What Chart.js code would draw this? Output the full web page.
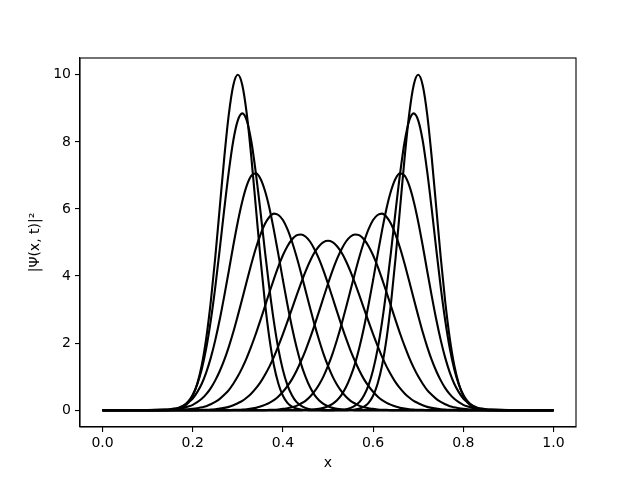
<!DOCTYPE html>
<html>
<head>
<meta charset="utf-8">
<script src="https://cdn.jsdelivr.net/npm/chart.js@4/dist/chart.umd.min.js"></script>
<style>
  html, body { margin: 0; padding: 0; background: #fff; }
  #wrap { width: 640px; height: 480px; }
</style>
</head>
<body>
<div id="wrap"><canvas id="c" width="640" height="480"></canvas></div>
<script>
// x grid (positions along the box)
const xs = [0,
  0.14,0.15,0.16,0.17,0.18,0.19,0.20,0.21,0.22,0.23,
  0.24,0.25,0.26,0.27,0.28,0.29,0.30,0.31,0.32,0.33,
  0.34,0.35,0.36,0.37,0.38,0.39,0.40,0.41,0.42,0.43,
  0.44,0.45,0.46,0.47,0.48,0.49,0.50,0.51,0.52,0.53,
  0.54,0.55,0.56,0.57,0.58,0.59,0.60,0.61,0.62,0.63,
  0.64,0.65,0.66,0.67,0.68,0.69,0.70,0.71,0.72,0.73,
  0.74,0.75,0.76,0.77,0.78,0.79,0.80,0.81,0.82,0.83,
  0.84,0.85,0.86,
  1];

// |Psi(x,t)|^2 for each time frame
const frame0 = [0,
  0,0.01,0.02,0.05,0.11,0.22,0.43,0.79,1.34,2.15,
  3.23,4.56,6.05,7.54,8.82,9.69,10.00,9.69,8.82,7.54,
  6.05,4.56,3.23,2.15,1.34,0.79,0.43,0.22,0.11,0.05,
  0.02,0.01,0,0,0,0,0,0,0,0,
  0,0,0,0,0,0,0,0,0,0,
  0,0,0,0,0,0,0,0,0,0,
  0,0,0,0,0,0,0,0,0,0,
  0,0,0,
  0];
const frame1 = [0,
  0.01,0.02,0.04,0.07,0.14,0.26,0.46,0.77,1.22,1.85,
  2.67,3.67,4.81,6.00,7.11,8.04,8.64,8.85,8.63,8.01,
  7.07,5.95,4.76,3.63,2.64,1.82,1.20,0.75,0.45,0.25,
  0.14,0.07,0.03,0.02,0.01,0,0,0,0,0,
  0,0,0,0,0,0,0,0,0,0,
  0,0,0,0,0,0,0,0,0,0,
  0,0,0,0,0,0,0,0,0,0,
  0,0,0,
  0];
const frame2 = [0,
  0.02,0.03,0.05,0.08,0.14,0.23,0.35,0.54,0.79,1.13,
  1.56,2.09,2.71,3.41,4.15,4.91,5.62,6.23,6.70,6.99,
  7.06,6.91,6.55,6.03,5.37,4.64,3.88,3.15,2.48,1.89,
  1.39,1.00,0.69,0.46,0.30,0.19,0.12,0.07,0.04,0.02,
  0.01,0.01,0,0,0,0,0,0,0,0,
  0,0,0,0,0,0,0,0,0,0,
  0,0,0,0,0,0,0,0,0,0,
  0,0,0,
  0];
const frame3 = [0,
  0.01,0.02,0.03,0.05,0.07,0.11,0.16,0.24,0.34,0.48,
  0.66,0.89,1.17,1.50,1.89,2.33,2.82,3.33,3.85,4.36,
  4.83,5.23,5.55,5.76,5.86,5.82,5.67,5.40,5.03,4.59,
  4.10,3.58,3.06,2.56,2.10,1.68,1.32,1.01,0.76,0.56,
  0.40,0.28,0.20,0.13,0.09,0.06,0.04,0.02,0.01,0.01,
  0,0,0,0,0,0,0,0,0,0,
  0,0,0,0,0,0,0,0,0,0,
  0,0,0,
  0];
const frame4 = [0,
  0,0,0.01,0.01,0.02,0.03,0.04,0.06,0.09,0.12,
  0.18,0.25,0.34,0.46,0.60,0.79,1.01,1.27,1.57,1.91,
  2.28,2.68,3.09,3.51,3.91,4.29,4.62,4.89,5.09,5.21,
  5.24,5.18,5.03,4.80,4.51,4.16,3.77,3.36,2.94,2.53,
  2.14,1.78,1.46,1.17,0.92,0.72,0.55,0.41,0.30,0.22,
  0.16,0.11,0.07,0.05,0.03,0.02,0.01,0.01,0,0,
  0,0,0,0,0,0,0,0,0,0,
  0,0,0,
  0];
const frame5 = [0,
  0,0,0,0,0,0,0,0,0.01,0.01,
  0.02,0.03,0.05,0.07,0.10,0.15,0.21,0.28,0.38,0.50,
  0.65,0.83,1.05,1.30,1.59,1.92,2.27,2.64,3.02,3.41,
  3.78,4.13,4.44,4.70,4.89,5.01,5.05,5.01,4.89,4.70,
  4.44,4.13,3.78,3.41,3.02,2.64,2.27,1.92,1.59,1.30,
  1.05,0.83,0.65,0.50,0.38,0.28,0.21,0.15,0.10,0.07,
  0.05,0.03,0.02,0.01,0.01,0,0,0,0,0,
  0,0,0,
  0];
const frame6 = [0,
  0,0,0,0,0,0,0,0,0,0,
  0,0,0,0,0,0.01,0.01,0.02,0.03,0.05,
  0.07,0.11,0.16,0.22,0.30,0.41,0.55,0.72,0.92,1.17,
  1.46,1.78,2.14,2.53,2.94,3.36,3.77,4.16,4.51,4.80,
  5.03,5.18,5.24,5.21,5.09,4.89,4.62,4.29,3.91,3.51,
  3.09,2.68,2.28,1.91,1.57,1.27,1.01,0.79,0.60,0.46,
  0.34,0.25,0.18,0.12,0.09,0.06,0.04,0.03,0.02,0.01,
  0.01,0,0,
  0];
const frame7 = [0,
  0,0,0,0,0,0,0,0,0,0,
  0,0,0,0,0,0,0,0,0,0,
  0,0,0,0.01,0.01,0.02,0.04,0.06,0.09,0.13,
  0.20,0.28,0.40,0.56,0.76,1.01,1.32,1.68,2.10,2.56,
  3.06,3.58,4.10,4.59,5.03,5.40,5.67,5.82,5.86,5.76,
  5.55,5.23,4.83,4.36,3.85,3.33,2.82,2.33,1.89,1.50,
  1.17,0.89,0.66,0.48,0.34,0.24,0.16,0.11,0.07,0.05,
  0.03,0.02,0.01,
  0];
const frame8 = [0,
  0,0,0,0,0,0,0,0,0,0,
  0,0,0,0,0,0,0,0,0,0,
  0,0,0,0,0,0,0,0,0,0,
  0,0.01,0.01,0.02,0.04,0.07,0.12,0.19,0.30,0.46,
  0.69,1.00,1.39,1.89,2.48,3.15,3.88,4.64,5.37,6.03,
  6.55,6.91,7.06,6.99,6.70,6.23,5.62,4.91,4.15,3.41,
  2.71,2.09,1.56,1.13,0.79,0.54,0.35,0.23,0.14,0.08,
  0.05,0.03,0.02,
  0];
const frame9 = [0,
  0,0,0,0,0,0,0,0,0,0,
  0,0,0,0,0,0,0,0,0,0,
  0,0,0,0,0,0,0,0,0,0,
  0,0,0,0,0,0,0,0,0.01,0.02,
  0.03,0.07,0.14,0.25,0.45,0.75,1.20,1.82,2.64,3.63,
  4.76,5.95,7.07,8.01,8.63,8.85,8.64,8.04,7.11,6.00,
  4.81,3.67,2.67,1.85,1.22,0.77,0.46,0.26,0.14,0.07,
  0.04,0.02,0.01,
  0];
const frame10 = [0,
  0,0,0,0,0,0,0,0,0,0,
  0,0,0,0,0,0,0,0,0,0,
  0,0,0,0,0,0,0,0,0,0,
  0,0,0,0,0,0,0,0,0,0,
  0,0.01,0.02,0.05,0.11,0.22,0.43,0.79,1.34,2.15,
  3.23,4.56,6.05,7.54,8.82,9.69,10.00,9.69,8.82,7.54,
  6.05,4.56,3.23,2.15,1.34,0.79,0.43,0.22,0.11,0.05,
  0.02,0.01,0,
  0];

const frames = [frame0, frame1, frame2, frame3, frame4, frame5,
                frame6, frame7, frame8, frame9, frame10];

const xTicks = [0, 0.2, 0.4, 0.6, 0.8, 1.0];
const yTicks = [0, 2, 4, 6, 8, 10];

const FONT = { family: 'DejaVu Sans', size: 14 };

const datasets = frames.map(f => ({
  data: xs.map((x, i) => ({ x: x, y: f[i] })),
  borderColor: '#000',
  borderWidth: 2.1,
  pointRadius: 0,
  fill: false,
  cubicInterpolationMode: 'monotone'
}));

const framePlugin = {
  id: 'frame',
  afterDraw(chart) {
    const { ctx, chartArea: a } = chart;
    ctx.save();
    ctx.strokeStyle = '#000';
    ctx.lineWidth = 1.1;
    ctx.strokeRect(a.left, a.top, a.right - a.left, a.bottom - a.top);
    ctx.restore();
  }
};

new Chart(document.getElementById('c'), {
  type: 'line',
  data: { datasets },
  plugins: [framePlugin],
  options: {
    responsive: false,
    animation: false,
    layout: { padding: { top: 58, right: 64, left: 0, bottom: 0 } },
    plugins: { legend: { display: false }, tooltip: { enabled: false } },
    scales: {
      x: {
        type: 'linear',
        min: -0.05, max: 1.05,
        afterBuildTicks: a => { a.ticks = xTicks.map(v => ({ value: v })); },
        afterFit: s => { s.height = 53; },
        ticks: { color: '#000', font: FONT, padding: 3, maxRotation: 0, autoSkip: false,
                 callback: v => Number(v).toFixed(1) },
        grid: { drawOnChartArea: false, drawTicks: true, tickLength: 5, color: '#000', lineWidth: 1.1 },
        border: { display: true, color: '#000', width: 1.1 },
        title: { display: true, text: 'x', color: '#000', font: FONT, padding: { top: 4, bottom: 8 } }
      },
      y: {
        type: 'linear',
        min: -0.5, max: 10.5,
        afterBuildTicks: a => { a.ticks = yTicks.map(v => ({ value: v })); },
        afterFit: s => { s.width = 80; },
        ticks: { color: '#000', font: FONT, padding: 4, autoSkip: false,
                 callback: v => String(v) },
        grid: { drawOnChartArea: false, drawTicks: true, tickLength: 5, color: '#000', lineWidth: 1.1 },
        border: { display: true, color: '#000', width: 1.1 },
        title: { display: true, text: '|Ψ(x, t)|²', color: '#000', font: FONT, padding: { top: 27, bottom: 0 } }
      }
    }
  }
});
</script>
</body>
</html>
